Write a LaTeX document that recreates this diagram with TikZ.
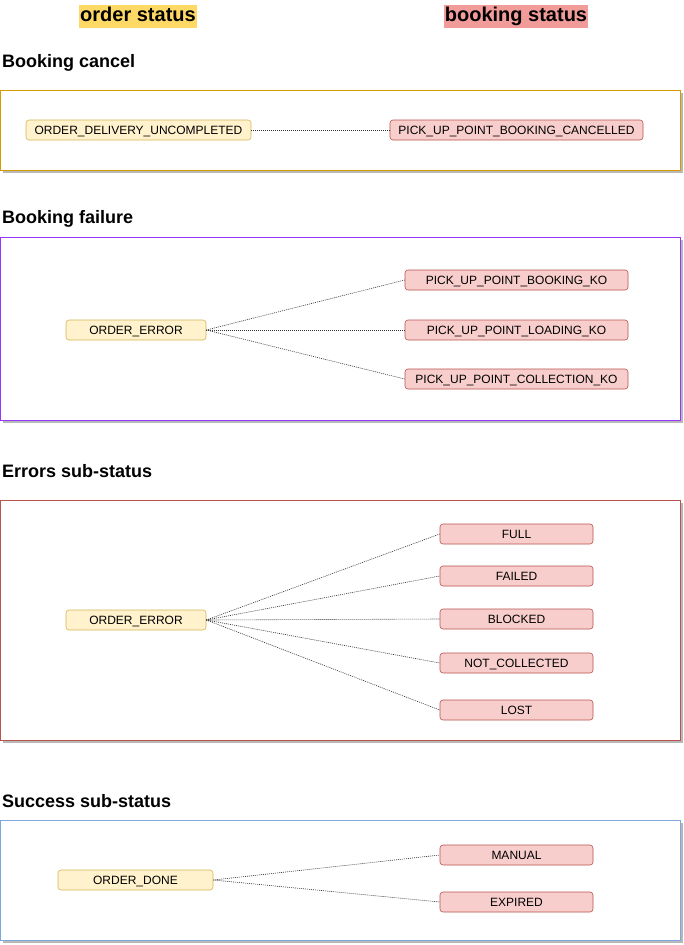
\documentclass[tikz,border=0pt]{standalone}
\usepackage{fontspec}
\setmainfont{Liberation Sans}
\usetikzlibrary{shadows}

\definecolor{hdryellow}{HTML}{FFD966}
\definecolor{hdrred}{HTML}{F19C99}
\definecolor{ordfill}{HTML}{FFF2CC}
\definecolor{orddraw}{HTML}{D6B656}
\definecolor{bkfill}{HTML}{F8CECC}
\definecolor{bkdraw}{HTML}{B85450}
\definecolor{cancelcol}{HTML}{D79B00}
\definecolor{failcol}{HTML}{9933FF}
\definecolor{errcol}{HTML}{B85450}
\definecolor{okcol}{HTML}{7EA6E0}

\begin{document}
\begin{tikzpicture}[
  x=1pt, y=-1pt,
  every node/.style={inner sep=0pt, font=\fontsize{12}{14}\selectfont},
  header/.style={inner xsep=1pt, minimum height=23pt, text height=14.5pt, text depth=4.5pt,
    font=\fontsize{20}{23}\selectfont\bfseries},
  section/.style={anchor=west, font=\fontsize{18}{21}\selectfont\bfseries},
  frame/.style={draw=#1, line width=0.8pt, fill=white, minimum width=680pt,
    drop shadow={shadow xshift=2.5pt, shadow yshift=-2.5pt, fill=black!35, opacity=0.8}},
  ordstate/.style={draw=orddraw, fill=ordfill, rounded corners=3pt, minimum height=20pt,
    text height=8.6pt, text depth=0pt, line width=0.6pt},
  bkstate/.style={draw=bkdraw, fill=bkfill, rounded corners=3pt, minimum height=20pt,
    text height=8.6pt, text depth=0pt, line width=0.6pt},
  link/.style={draw=black!80, line width=0.6pt, dash pattern=on 1pt off 1pt}
]
  \useasboundingbox (0,0) rectangle (684,945);

  % column headers
  \node[header, fill=hdryellow] (hdrorder) at (138,16) {order status};
  \node[header, fill=hdrred] (hdrbooking) at (516,16) {booking status};

  % booking cancel
  \node[section] (titlecancel) at (2,62.5) {Booking cancel};
  \node[frame=cancelcol, minimum height=80pt] (boxcancel) at (340,130) {};
  \node[ordstate, minimum width=225pt] (uncompleted) at (138.5,130) {ORDER\_DELIVERY\_UNCOMPLETED};
  \node[bkstate, minimum width=253pt] (cancelled) at (516.5,130) {PICK\_UP\_POINT\_BOOKING\_CANCELLED};
  \draw[link] (uncompleted.east) -- (cancelled.west);

  % booking failure
  \node[section] (titlefail) at (2,218.5) {Booking failure};
  \node[frame=failcol, minimum height=183pt] (boxfail) at (340,328.5) {};
  \node[ordstate, minimum width=140pt] (errorA) at (136,330) {ORDER\_ERROR};
  \node[bkstate, minimum width=223pt] (bookingko) at (516.5,280) {PICK\_UP\_POINT\_BOOKING\_KO};
  \node[bkstate, minimum width=223pt] (loadingko) at (516.5,330) {PICK\_UP\_POINT\_LOADING\_KO};
  \node[bkstate, minimum width=223pt] (collectionko) at (516.5,379) {PICK\_UP\_POINT\_COLLECTION\_KO};
  \foreach \t in {bookingko,loadingko,collectionko}
    \draw[link] (errorA.east) -- (\t.west);

  % errors sub-status
  \node[section] (titleerr) at (2,471.5) {Errors sub-status};
  \node[frame=errcol, minimum height=240pt] (boxerr) at (340,620) {};
  \node[ordstate, minimum width=140pt] (errorB) at (136,620) {ORDER\_ERROR};
  \node[bkstate, minimum width=153pt] (full) at (516.5,534) {FULL};
  \node[bkstate, minimum width=153pt] (failed) at (516.5,576) {FAILED};
  \node[bkstate, minimum width=153pt] (blocked) at (516.5,619) {BLOCKED};
  \node[bkstate, minimum width=153pt] (notcollected) at (516.5,663) {NOT\_COLLECTED};
  \node[bkstate, minimum width=153pt] (lost) at (516.5,710) {LOST};
  \foreach \t in {full,failed,blocked,notcollected,lost}
    \draw[link] (errorB.east) -- (\t.west);

  % success sub-status
  \node[section] (titleok) at (2,801.5) {Success sub-status};
  \node[frame=okcol, minimum height=120pt] (boxok) at (340,880) {};
  \node[ordstate, minimum width=155pt] (done) at (135.5,880) {ORDER\_DONE};
  \node[bkstate, minimum width=153pt] (manual) at (516.5,855) {MANUAL};
  \node[bkstate, minimum width=153pt] (expired) at (516.5,902) {EXPIRED};
  \foreach \t in {manual,expired}
    \draw[link] (done.east) -- (\t.west);
\end{tikzpicture}
\end{document}
